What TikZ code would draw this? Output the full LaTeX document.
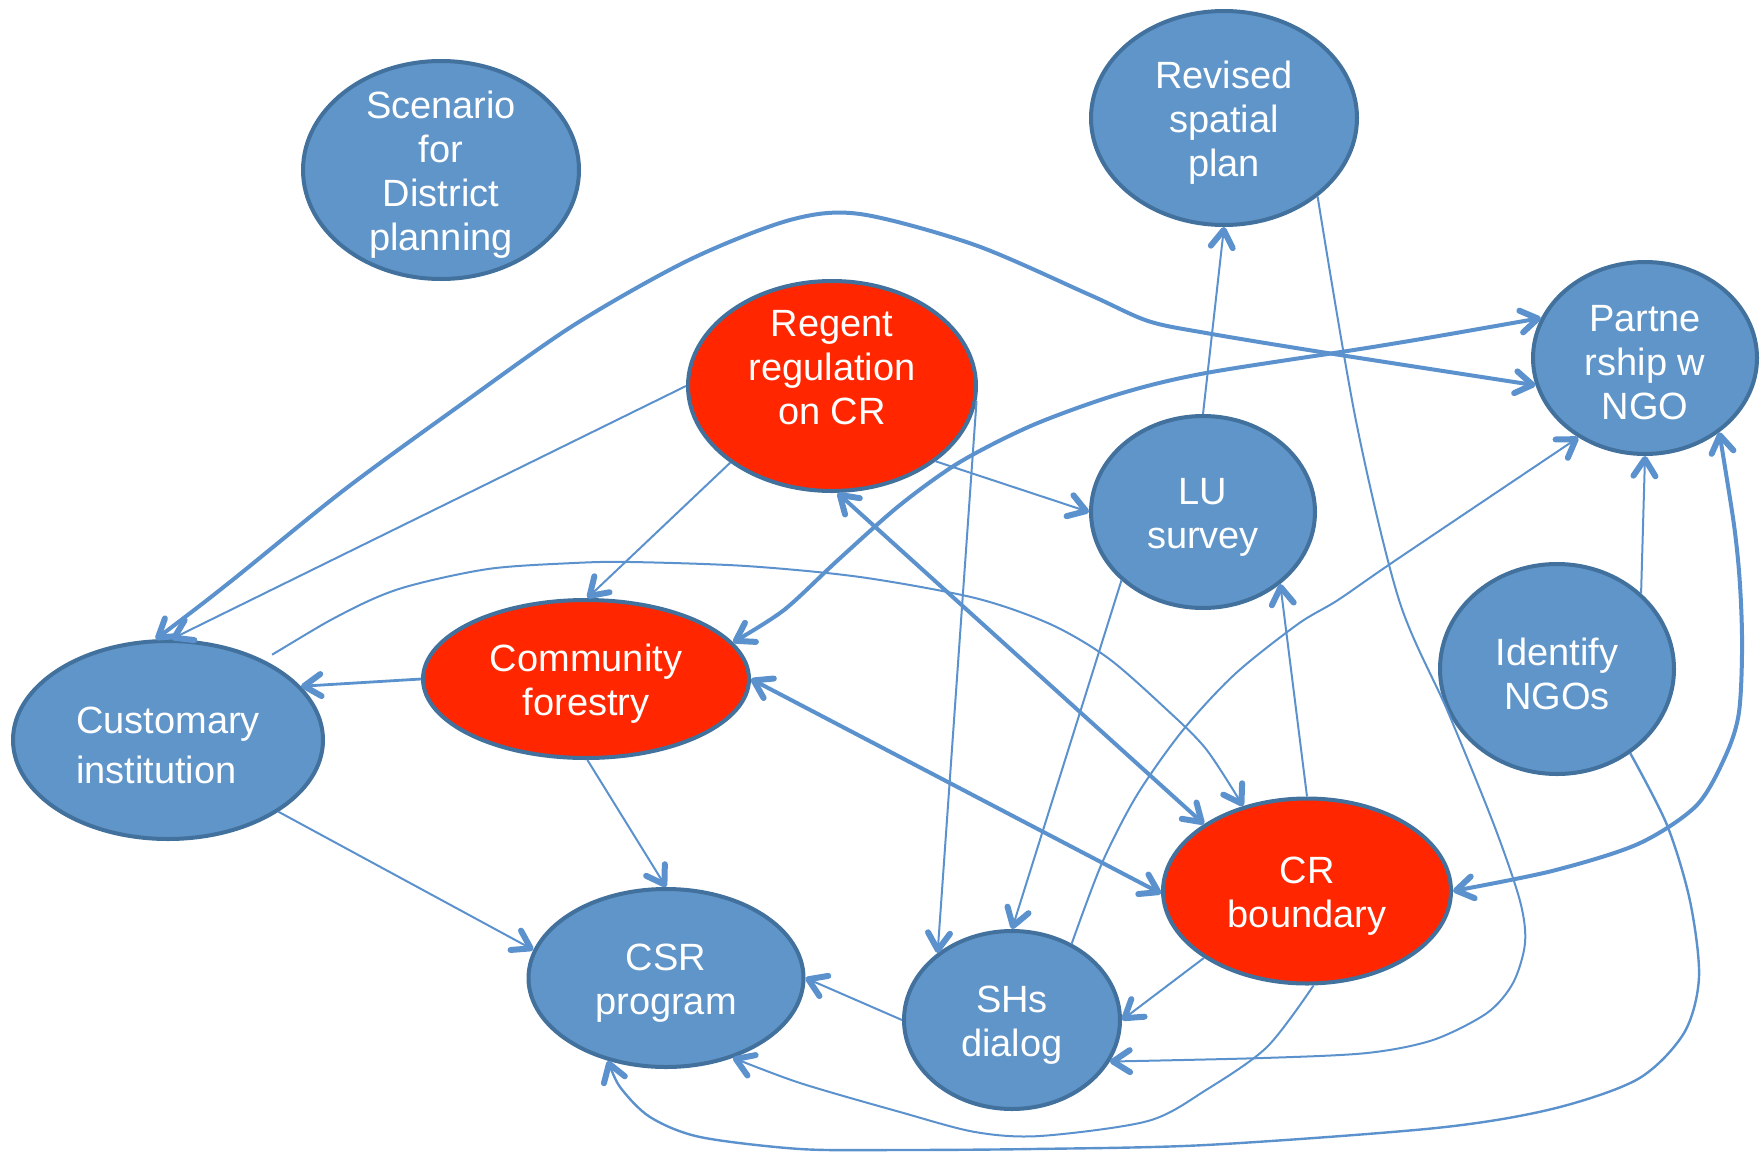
\documentclass[tikz,border=0pt]{standalone}
\usepackage{fontspec}
\setmainfont{Liberation Sans}
\usetikzlibrary{shapes.geometric}
\definecolor{nodeblue}{RGB}{96,149,201}
\definecolor{nodeborder}{RGB}{65,113,156}
\definecolor{nodered}{RGB}{255,38,0}
\definecolor{edgeblue}{RGB}{91,146,205}
\pgfdeclarearrow{
  name = VHead,
  setup code = {
    \pgfarrowssettipend{3pt}
    \pgfarrowssetlineend{0pt}
    \pgfarrowssetbackend{-20pt}
    \pgfarrowsupperhullpoint{-20pt}{14pt}
    \pgfarrowsupperhullpoint{3pt}{0pt}
  },
  drawing code = {
    \pgfsetdash{}{0pt}
    \pgfsetroundcap
    \pgfsetroundjoin
    \pgfsetlinewidth{6pt}
    \pgfpathmoveto{\pgfpoint{-17pt}{11pt}}
    \pgfpathlineto{\pgfpointorigin}
    \pgfpathlineto{\pgfpoint{-17pt}{-11pt}}
    \pgfusepathqstroke
  }
}
\begin{document}
\begin{tikzpicture}[x=1pt,y=-1pt,
  bub/.style={ellipse, draw=nodeborder, line width=4pt, fill=nodeblue, inner sep=0pt},
  redbub/.style={bub, fill=nodered},
  lbl/.style={text=white, align=center, inner sep=0pt, yshift=-5pt, font=\fontsize{38}{44}\selectfont},
  >=VHead,
  thinline/.style={draw=edgeblue, line width=2pt, ->},
  midline/.style={draw=edgeblue, line width=2.8pt, ->},
  boldline/.style={draw=edgeblue, line width=4pt, <->},
]
\useasboundingbox (0,0) rectangle (1764,1154);
% nodes
\node[bub, minimum width=276pt, minimum height=218pt] (scen) at (441,170) {};
\node[bub, minimum width=266pt, minimum height=214pt] (revised) at (1224,118) {};
\node[redbub, minimum width=288pt, minimum height=210pt] (regent) at (832,386) {};
\node[bub, minimum width=224pt, minimum height=192pt] (partner) at (1645,358) {};
\node[bub, minimum width=224pt, minimum height=192pt] (lu) at (1203,512) {};
\node[redbub, minimum width=326pt, minimum height=158pt] (comm) at (586,679) {};
\node[bub, minimum width=310pt, minimum height=198pt] (cust) at (168,740) {};
\node[bub, minimum width=234pt, minimum height=210pt] (ident) at (1557,669) {};
\node[redbub, minimum width=288pt, minimum height=185pt] (crb) at (1307,891) {};
\node[bub, minimum width=275pt, minimum height=178pt] (csr) at (666,978) {};
\node[bub, minimum width=216pt, minimum height=178pt] (shs) at (1012,1020) {};
% labels
\node[lbl] (scenT) at (scen) {Scenario\\for\\District\\planning};
\node[lbl] (revisedT) at (revised) {Revised\\spatial\\plan};
\node[lbl] (regentT) at ([yshift=23pt]regent.center) {Regent\\regulation\\on CR};
\node[lbl] (partnerT) at (partner) {Partne\\rship w\\NGO};
\node[lbl] (luT) at (lu) {LU\\survey};
\node[lbl] (commT) at (comm) {Community\\forestry};
\node[lbl, align=left, font=\fontsize{38}{50}\selectfont] (custT) at (cust.center) {Customary\\institution};
\node[lbl] (identT) at (ident) {Identify\\NGOs};
\node[lbl] (crbT) at (crb) {CR\\boundary};
\node[lbl] (csrT) at (csr) {CSR\\program};
\node[lbl] (shsT) at (shs) {SHs\\dialog};
% bold double-headed connectors
\draw[boldline] plot[smooth] coordinates {(cust.97) (230,582) (344,490) (459,406) (574,325) (689,260) (790,220) (860,214) (975,245) (1090,295) (1148,321) (1206,333) (1321,352) (partner.194)};
\draw[boldline] plot[smooth] coordinates {(partner.159) (1379,346) (1206,373) (1119,394) (1033,425) (960,462) (900,505) (838,560) (784,610) (comm.14)};
\draw[boldline] (regent.273) -- (crb.147);
\draw[boldline] (comm.0) -- (crb.181);
\draw[boldline] plot[smooth] coordinates {(partner.315) (1737,550) (1742,636) (1739,712) (1725,757) (1696,806) (1638,844) (1552,871) (crb.0)};
% straight thin connectors
\draw[thinline] (regent.180) -- (cust.88);
\draw[thinline] (regent.217) -- (comm.89);
\draw[thinline] (regent.324) -- (lu.180);
\draw[thinline] (regent.354) -- (shs.138);
\draw[midline] (comm.180) -- (cust.22);
\draw[thinline] (comm.271) -- (csr.90);
\draw[thinline] (cust.327) -- (csr.168);
\draw[thinline] (lu.90) -- (revised.270);
\draw[thinline] (lu.220) -- (shs.90);
\draw[thinline] (crb.90) -- (lu.317);
\draw[thinline] (ident.42) -- (partner.270);
\draw[thinline] (crb.213) -- (shs.0);
\draw[thinline] (shs.180) -- (csr.0);
% curved thin connectors
\draw[thinline, shorten <=10pt] plot[smooth] coordinates {(cust.40) (344,613) (402,588) (488,569) (574,563) (631,562) (746,566) (860,577) (975,598) (1050,624) (1108,658) (1165,708) (1206,749) (crb.127)};
\draw[thinline] plot[smooth] coordinates {(revised.320) (1356,421) (1399,600) (1448,712) (1494,825) (1520,901) (1525,943) (1513,983) (1487,1013) (1433,1040) (1367,1053) (1263,1058) (shs.337)};
\draw[thinline] plot[smooth] coordinates {(shs.52) (1102,863) (1137,795) (1183,730) (1235,674) (1298,624) (1338,600) (1396,560) (partner.230)};
\draw[thinline] plot[smooth] coordinates {(crb.274) (1267,1047) (1206,1090) (1148,1121) (1040,1136) (975,1132) (900,1112) (800,1083) (csr.310)};
\draw[thinline, line width=2.4pt] plot[smooth] coordinates {(ident.311) (1667,825) (1690,901) (1699,977) (1684,1033) (1638,1079) (1552,1109) (1436,1128) (1206,1145) (1033,1149) (900,1150) (800,1149) (700,1137) (650,1117) (620,1087) (csr.235)};
\end{tikzpicture}
\end{document}
